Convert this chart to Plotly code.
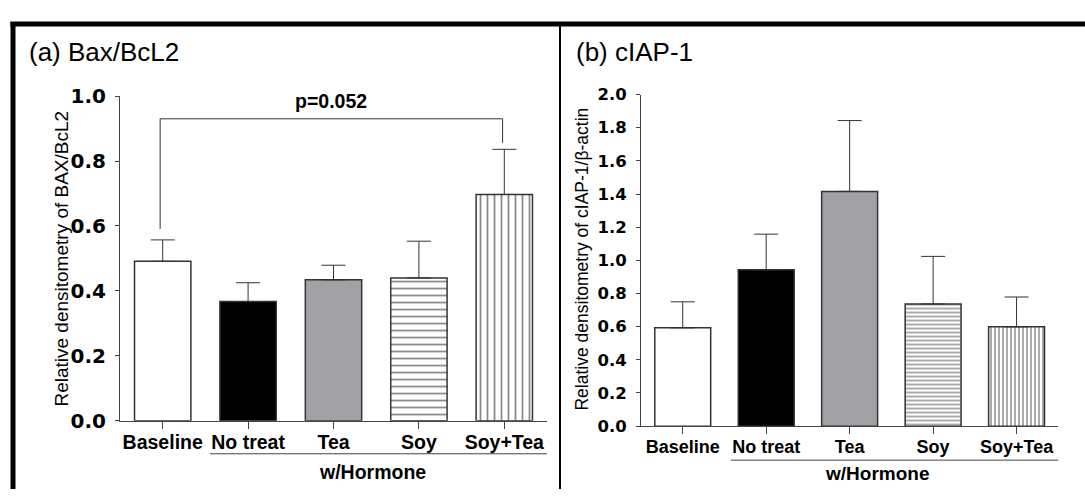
import plotly.graph_objects as go

# ---------------- data ----------------
categories = ["Baseline", "No treat", "Tea", "Soy", "Soy+Tea"]

bax_mean = [0.491, 0.367, 0.434, 0.440, 0.697]
bax_err = [0.066, 0.058, 0.045, 0.113, 0.139]

ciap_mean = [0.593, 0.943, 1.416, 0.737, 0.599]
ciap_err = [0.157, 0.215, 0.427, 0.287, 0.180]

bax_ticks = [0.0, 0.2, 0.4, 0.6, 0.8, 1.0]
ciap_ticks = [0.0, 0.2, 0.4, 0.6, 0.8, 1.0, 1.2, 1.4, 1.6, 1.8, 2.0]

# significance bracket (a): left leg bottom, bracket top, right leg bottom
bracket_left_bottom = 0.591
bracket_top = 0.930
bracket_right_bottom = 0.856
p_label = "p=0.052"

# ---------------- styles ----------------
fills = ["#ffffff", "#000000", "#a2a2a6", "#ffffff", "#ffffff"]
patterns = ["", "", "", "-", "|"]
W, H = 1085, 501
AX = "#444444"
EDGE = "#333333"
FONT = "Liberation Sans, Arial, sans-serif"


def px_x(p):
    return p / W


def px_y(p):
    return 1 - p / H


fig = go.Figure()


def add_panel(means, errs, xa, ya, width, psize, psolid):
    for i, cat in enumerate(categories):
        marker = dict(color=fills[i], line=dict(color=EDGE, width=1.5))
        if patterns[i]:
            marker["pattern"] = dict(shape=patterns[i], fgcolor="#111111", bgcolor="#ffffff",
                                     size=psize, solidity=psolid, fillmode="overlay")
        fig.add_trace(go.Bar(
            x=[cat], y=[means[i]], width=width, xaxis=xa, yaxis=ya,
            marker=marker,
            error_y=dict(type="data", symmetric=False, array=[errs[i]],
                         arrayminus=[0], color=EDGE, thickness=1, width=12),
            showlegend=False,
        ))


add_panel(bax_mean, bax_err, "x", "y", 0.66, 7, 0.25)
add_panel(ciap_mean, ciap_err, "x2", "y2", 0.67, 4, 0.35)

xcommon = dict(type="category", categoryorder="array", categoryarray=categories,
               range=[-0.5, 4.5], showline=True, linecolor=AX,
               linewidth=1, ticks="outside", ticklen=7, tickcolor=AX, showgrid=False,
               zeroline=False, fixedrange=True)
ycommon = dict(showline=True, linecolor=AX, linewidth=1, ticks="outside", ticklen=4,
               tickcolor=AX, showgrid=False, zeroline=False, tickformat=".1f",
               tickmode="array", fixedrange=True)

fig.update_layout(
    width=W, height=H,
    barmode="overlay",
    margin=dict(l=0, r=0, t=0, b=0),
    paper_bgcolor="white", plot_bgcolor="white",
    font=dict(family=FONT, color="#000000"),
    xaxis=dict(**xcommon, domain=[px_x(120), px_x(547)], anchor="y",
               ticklabelstandoff=-3,
               tickfont=dict(family=FONT, size=19.5, weight="bold")),
    yaxis=dict(**ycommon, domain=[px_y(429.3), px_y(88.3)], range=[0, 1.0],
               anchor="x", tickvals=bax_ticks, ticklabelstandoff=5,
               tickfont=dict(family="DejaVu Sans", size=20, weight="bold")),
    xaxis2=dict(**xcommon, domain=[px_x(641), px_x(1058.3)], anchor="y2",
                ticklabelstandoff=-3,
                tickfont=dict(family=FONT, size=18, weight="bold")),
    yaxis2=dict(**ycommon, domain=[px_y(435), px_y(86.7)], range=[0, 2.0],
                anchor="x2", tickvals=ciap_ticks, ticklabelstandoff=6,
                tickfont=dict(family="DejaVu Sans", size=16.5, weight="bold")),
)

shapes = []
# significance bracket
for (x0, y0, x1, y1) in [
    (-0.03, bracket_left_bottom, -0.03, bracket_top),
    (-0.03, bracket_top, 3.98, bracket_top),
    (3.98, bracket_top, 3.98, bracket_right_bottom),
]:
    shapes.append(dict(type="line", xref="x", yref="y", x0=x0, y0=y0, x1=x1, y1=y1,
                       line=dict(color=EDGE, width=1)))
# w/Hormone underlines
shapes.append(dict(type="line", xref="x", yref="paper", x0=0.554, x1=4.5,
                   y0=px_y(464), y1=px_y(464), line=dict(color=AX, width=1)))
shapes.append(dict(type="line", xref="x2", yref="paper", x0=0.576, x1=4.5,
                   y0=px_y(470.7), y1=px_y(470.7), line=dict(color=AX, width=1)))
# outer frame
shapes.append(dict(type="line", xref="paper", yref="paper", x0=px_x(10.5), x1=1,
                   y0=px_y(12.5), y1=px_y(12.5), line=dict(color="#000", width=5)))
shapes.append(dict(type="line", xref="paper", yref="paper", x0=px_x(13), x1=px_x(13),
                   y0=px_y(10.5), y1=0, line=dict(color="#000", width=5)))
shapes.append(dict(type="line", xref="paper", yref="paper", x0=px_x(560), x1=px_x(560),
                   y0=px_y(12.5), y1=0, line=dict(color="#000", width=2)))
fig.update_layout(shapes=shapes)

annotations = [
    dict(text="(a) Bax/BcL2", xref="paper", yref="paper", x=px_x(27), y=px_y(42),
         xanchor="left", yanchor="middle", showarrow=False,
         font=dict(family=FONT, size=26, color="#000")),
    dict(text="(b) cIAP-1", xref="paper", yref="paper", x=px_x(574), y=px_y(42),
         xanchor="left", yanchor="middle", showarrow=False,
         font=dict(family=FONT, size=26, color="#000")),
    dict(text="Relative densitometry of BAX/BcL2", xref="paper", yref="paper",
         x=px_x(62), y=px_y(259), textangle=-90, xanchor="center", yanchor="middle",
         showarrow=False, font=dict(family=FONT, size=19, color="#000")),
    dict(text="Relative densitometry of cIAP-1/β-actin", xref="paper", yref="paper",
         x=px_x(582), y=px_y(260), textangle=-90, xanchor="center", yanchor="middle",
         showarrow=False, font=dict(family=FONT, size=17.5, color="#000")),
    dict(text=p_label, xref="paper", yref="paper", x=px_x(331), y=px_y(94),
         xanchor="center", yanchor="middle", showarrow=False,
         font=dict(family=FONT, size=19.5, weight="bold", color="#000")),
    dict(text="w/Hormone", xref="paper", yref="paper", x=px_x(372), y=px_y(483),
         xanchor="center", yanchor="middle", showarrow=False,
         font=dict(family=FONT, size=19.5, weight="bold", color="#000")),
    dict(text="w/Hormone", xref="paper", yref="paper", x=px_x(877), y=px_y(485),
         xanchor="center", yanchor="middle", showarrow=False,
         font=dict(family=FONT, size=19, weight="bold", color="#000")),
]
fig.update_layout(annotations=annotations)

fig.write_html(
    "out.html",
    config={"displayModeBar": False},
    post_script="document.documentElement.style.margin='0';"
                "document.body.style.margin='0';"
                "document.body.style.overflow='hidden';",
)
